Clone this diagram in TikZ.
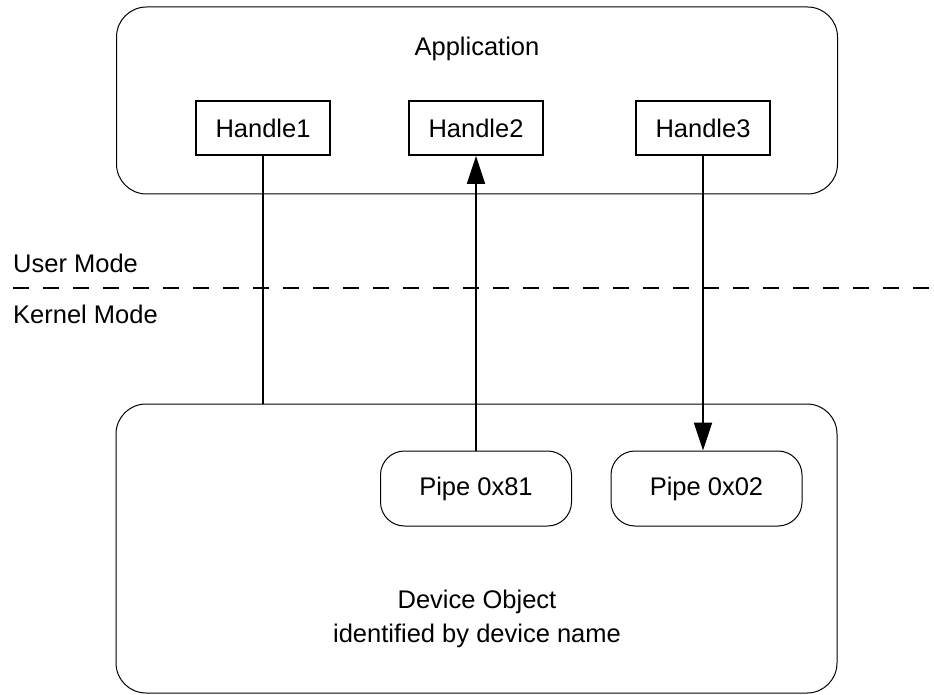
\documentclass[tikz,border=0pt]{standalone}
\usepackage{fontspec}
\setmainfont{Liberation Sans}
\usetikzlibrary{arrows.meta, positioning}

\begin{document}
\begin{tikzpicture}[
    x=1pt, y=-1pt,
    every node/.style = {font=\fontsize{25.5}{34}\selectfont},
    region/.style = {draw=black, line width=1pt, rectangle, rounded corners=30pt, minimum width=721pt, inner sep=0pt},
    handle/.style = {draw=black, line width=1.8pt, rectangle, minimum width=134pt, minimum height=54pt, inner sep=0pt},
    pipe/.style = {draw=black, line width=1pt, rectangle, rounded corners=24pt, minimum width=191pt, minimum height=75pt, inner sep=0pt},
    link/.style = {line width=2pt},
    flow/.style = {link, -{Triangle[length=28pt, width=18pt]}},
    modeSplit/.style = {line width=1.8pt, dash pattern=on 16pt off 14pt},
    modeText/.style = {anchor=base west, inner sep=0pt}
]
\useasboundingbox (0,0) rectangle (934,695);

% user side
\node(App)[region, minimum height=187pt] at (477,100.5) {};
\node(AppLabel)[anchor=base, inner sep=0pt] at (477,56) {Application};
\node(Handle1)[handle] at (263,128) {Handle1};
\node(Handle2)[handle] at (476,128) {Handle2};
\node(Handle3)[handle] at (703,128) {Handle3};

% mode boundary
\coordinate(SplitL) at (13,288);
\coordinate(SplitR) at (934,288);
\draw[modeSplit] (SplitL) -- (SplitR);
\node(UserMode)[modeText] at (13,272) {User Mode};
\node(KernelMode)[modeText] at (13,323) {Kernel Mode};

% kernel side
\node(Device)[region, minimum height=289pt] at (476.5,548.5) {};
\node(Pipe81)[pipe] at (476,488.5) {Pipe 0x81};
\node(Pipe02)[pipe] at (706.5,488.5) {Pipe 0x02};
\node(DeviceLabel)[anchor=north, align=center, inner sep=0pt] at (477,589.5) {
    Device Object \\
    identified by device name
};

\draw[link] (Handle1.south) -- (Handle1.south |- Device.north);
\draw[flow] (Pipe81.north) -- (Pipe81.north |- Handle2.south);
\draw[flow] (Handle3.south) -- (Handle3.south |- Pipe02.north);

\end{tikzpicture}
\end{document}
